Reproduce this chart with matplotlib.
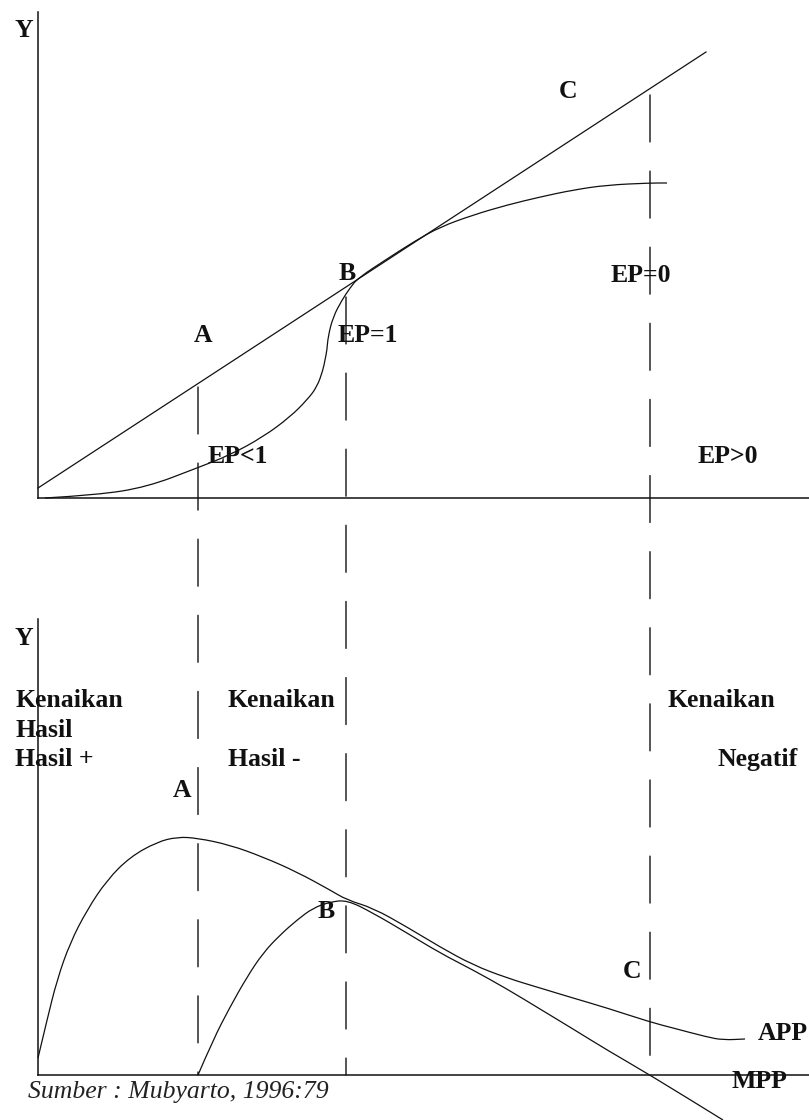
import matplotlib
matplotlib.use("Agg")
import matplotlib.pyplot as plt
from matplotlib.patches import ConnectionPatch, PathPatch
from matplotlib.path import Path

# units: x = input, y = output (top) / product (bottom)
# top panel: TPP curve and tangent ray from origin
tpp_x = [0.7, 5.9, 10.9, 15.9, 19.2, 22.5, 25.2, 26.9, 27.9, 28.5, 28.7, 28.9,
         29.0, 29.5, 30.4, 31.2, 32.0, 35.2, 37.7, 40.2, 43.5, 46.9, 50.2,
         53.5, 56.9, 61.2, 62.9]
tpp_y = [0.0, 0.3, 1.1, 3.0, 4.3, 6.1, 8.1, 9.8, 11.1, 12.8, 13.8, 14.8,
         16.1, 18.1, 19.8, 21.0, 22.0, 24.1, 25.7, 27.1, 28.3, 29.3, 30.1,
         30.8, 31.3, 31.5, 31.5]
ray_x = [0.0, 66.8]
ray_y = [1.0, 44.6]

# bottom panel: APP and MPP
app_x = [0.0, 0.9, 1.9, 3.2, 4.9, 6.9, 9.2, 11.9, 13.9, 15.9, 19.2, 22.5,
         25.9, 29.2, 30.9, 33.5, 36.9, 40.2, 43.5, 46.9, 50.2, 53.5, 56.9,
         61.2, 63.5, 66.9, 68.5, 70.7]
app_y = [1.7, 5.5, 9.5, 13.2, 16.5, 19.5, 21.8, 23.3, 23.8, 23.7, 23.0, 21.8,
         20.3, 18.5, 17.5, 16.7, 14.8, 12.8, 11.0, 9.7, 8.7, 7.7, 6.7,
         5.3, 4.7, 3.8, 3.5, 3.6]
mpp_x = [16.0, 17.5, 19.2, 20.9, 22.5, 24.2, 25.9, 27.5, 29.2, 30.9, 33.5,
         36.9, 40.2, 43.5, 46.9, 50.2, 53.5, 56.9, 61.2, 68.5]
mpp_y = [0.0, 3.5, 6.8, 9.8, 12.2, 14.0, 15.5, 16.7, 17.3, 17.5, 16.2,
         14.2, 12.2, 10.5, 8.6, 6.6, 4.6, 2.5, 0.0, -4.5]

# stage boundaries A, B, C and where their dashed lines start in the top panel
stage_x = [16.0, 30.8, 61.2]
stage_top = [11.1, 20.1, 40.3]

plt.rcParams['font.family'] = ['Liberation Serif', 'DejaVu Serif']
FS = 18.5
LC = '#111111'


def smooth_curve(ax, xs, ys, lw=0.9):
    # quadratic bezier through the midpoints, read points act as controls
    pts = list(zip(xs, ys))
    verts = [pts[0]]
    codes = [Path.MOVETO]
    for i in range(1, len(pts) - 1):
        mid = ((pts[i][0] + pts[i + 1][0]) / 2, (pts[i][1] + pts[i + 1][1]) / 2)
        verts += [pts[i], mid]
        codes += [Path.CURVE3, Path.CURVE3]
    verts.append(pts[-1])
    codes.append(Path.LINETO)
    patch = PathPatch(Path(verts, codes), fill=False, edgecolor=LC, lw=lw,
                      transform=ax.transData, clip_on=False)
    ax.add_patch(patch)


fig = plt.figure(figsize=(8.09, 11.2), dpi=100)
W, H = 809.0, 1120.0
ax_top = fig.add_axes([38 / W, (H - 498) / H, (W - 38) / W, (498 - 12) / H])
ax_bot = fig.add_axes([38 / W, (H - 1075) / H, (W - 38) / W, (1075 - 619) / H])

for ax, ytop in ((ax_top, 48.6), (ax_bot, 45.6)):
    ax.set_xlim(0, 77.1)
    ax.set_ylim(0, ytop)
    ax.set_xticks([])
    ax.set_yticks([])
    ax.spines['top'].set_visible(False)
    ax.spines['right'].set_visible(False)
    ax.spines['left'].set_linewidth(1.1)
    ax.spines['bottom'].set_linewidth(1.1)
    ax.spines['left'].set_color(LC)
    ax.spines['bottom'].set_color(LC)
    ax.patch.set_alpha(0)

ax_top.plot(ray_x, ray_y, color=LC, lw=0.9, clip_on=False)
smooth_curve(ax_top, tpp_x, tpp_y)
smooth_curve(ax_bot, app_x, app_y)
smooth_curve(ax_bot, mpp_x, mpp_y)

for sx, st in zip(stage_x, stage_top):
    con = ConnectionPatch(xyA=(sx, st), coordsA='data', axesA=ax_top,
                          xyB=(sx, 0), coordsB='data', axesB=ax_bot,
                          color=LC, lw=1.0, linestyle=(0, (33.8, 21.0)))
    fig.add_artist(con)

bold = dict(fontsize=FS, fontweight='bold', color=LC, va='baseline')

# top panel labels
ax_top.text(-1.4, 46.1, 'Y', ha='center', **bold)
ax_top.text(53.0, 40.0, 'C', ha='center', **bold)
ax_top.text(30.9, 21.8, 'B', ha='center', **bold)
ax_top.text(16.5, 15.6, 'A', ha='center', **bold)
ax_top.text(30.0, 15.6, 'EP=1', ha='left', **bold)
ax_top.text(17.0, 3.5, 'EP<1', ha='left', **bold)
ax_top.text(60.3, 21.6, 'EP=0', ha='center', **bold)
ax_top.text(66.0, 3.5, 'EP>0', ha='left', **bold)

# bottom panel labels
ax_bot.text(-1.4, 43.0, 'Y', ha='center', **bold)
ax_bot.text(-2.3, 36.8, 'Kenaikan', ha='left', **bold)
ax_bot.text(-2.3, 33.8, 'Hasil', ha='left', **bold)
ax_bot.text(-2.3, 30.9, 'Hasil +', ha='left', **bold)
ax_bot.text(19.0, 36.8, 'Kenaikan', ha='left', **bold)
ax_bot.text(19.0, 30.9, 'Hasil -', ha='left', **bold)
ax_bot.text(62.9, 36.8, 'Kenaikan', ha='left', **bold)
ax_bot.text(68.0, 30.9, 'Negatif', ha='left', **bold)
ax_bot.text(14.4, 27.8, 'A', ha='center', **bold)
ax_bot.text(28.8, 15.7, 'B', ha='center', **bold)
ax_bot.text(59.4, 9.7, 'C', ha='center', **bold)
ax_bot.text(72.0, 3.5, 'APP', ha='left', **bold)
ax_bot.text(69.4, -1.3, 'MPP', ha='left', **bold)
ax_bot.text(-1.0, -2.3, 'Sumber : Mubyarto, 1996:79', ha='left', va='baseline',
            fontsize=FS, fontstyle='italic', color='#222222')

fig.savefig('out.png', dpi=100, facecolor='white')
